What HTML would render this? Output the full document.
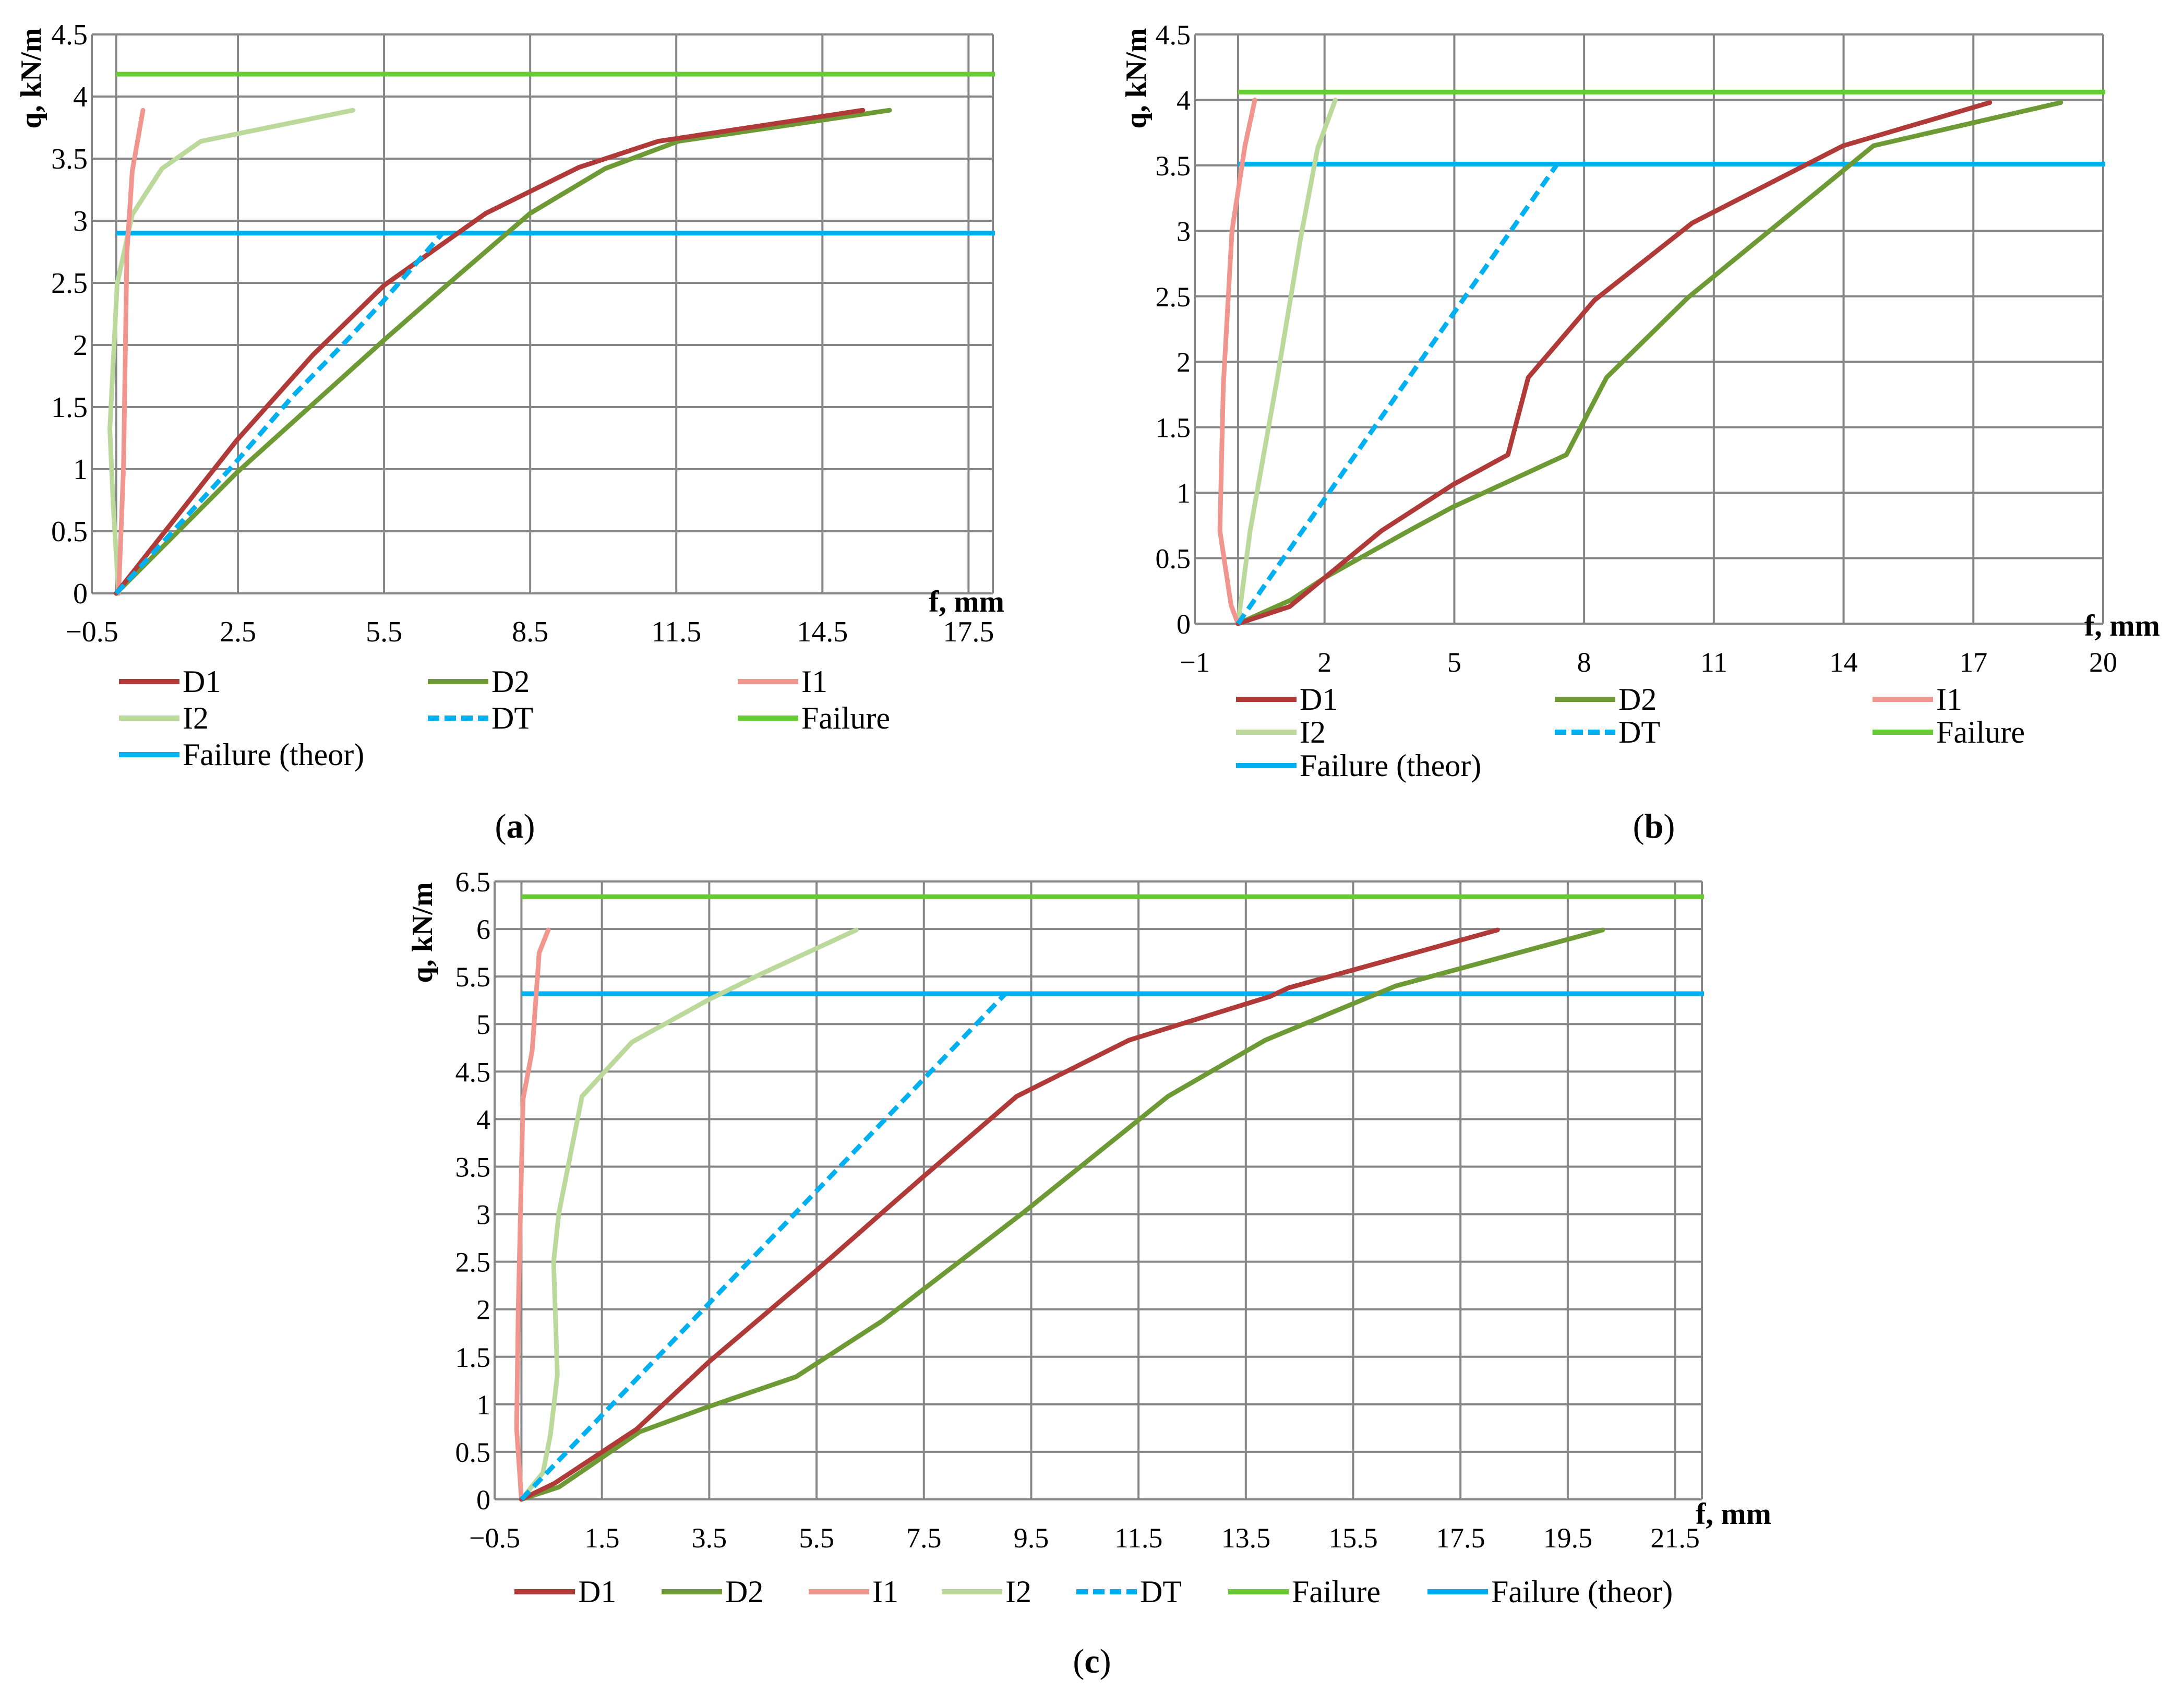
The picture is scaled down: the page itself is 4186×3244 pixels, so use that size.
<!DOCTYPE html>
<html><head><meta charset="utf-8">
<style>
html,body{margin:0;padding:0;background:#fff;}
svg{display:block;font-family:"Liberation Serif",serif;}
svg text{font-family:"Liberation Serif",serif;}
</style></head>
<body>
<svg id="fig" width="4186" height="3244" viewBox="0 0 4186 3244" xmlns="http://www.w3.org/2000/svg" font-family="Liberation Serif, serif"></svg>
<script>
// ---------- DATA: chart (a) ----------
const aD1x=[0,2.47,4.04,5.5,7.59,9.5,11.13,15.33];
const aD1y=[0,1.23,1.92,2.48,3.06,3.43,3.64,3.89];
const aD2x=[0,2.47,5.5,6.9,8.5,10.04,11.54,15.88];
const aD2y=[0,0.97,2.04,2.52,3.06,3.42,3.64,3.89];
const aI1x=[0.05,0.15,0.22,0.33,0.55];
const aI1y=[0,1.01,2.74,3.4,3.89];
const aI2x=[0.05,-0.06,-0.13,0.02,0.33,0.94,1.74,4.86];
const aI2y=[0,0.7,1.32,2.49,3.05,3.42,3.64,3.89];
const aDTx=[0,2.4,3.63,4.72,5.5,6.7];
const aDTy=[0,1.03,1.59,2.03,2.36,2.9];
const aFail=4.18, aTheor=2.9;
const aXTicks=["−0.5","2.5","5.5","8.5","11.5","14.5","17.5"];
const aXTickVals=[-0.5,2.5,5.5,8.5,11.5,14.5,17.5];
const aYTicks=[0,0.5,1,1.5,2,2.5,3,3.5,4,4.5];
// ---------- DATA: chart (b) ----------
const bD1x=[0,1.19,2,3.32,4.96,6.24,6.71,8.24,10.5,13.99,17.38];
const bD1y=[0,0.13,0.35,0.71,1.06,1.29,1.88,2.47,3.06,3.65,3.98];
const bD2x=[0,1.22,2,3.95,4.96,7.59,8.52,10.4,13.99,14.69,19.02];
const bD2y=[0,0.18,0.35,0.71,0.89,1.29,1.88,2.49,3.46,3.65,3.98];
const bI1x=[0,-0.16,-0.42,-0.34,-0.14,0.16,0.39];
const bI1y=[0,0.14,0.71,1.82,3.0,3.65,4.0];
const bI2x=[0,0.28,0.9,1.45,1.84,2.25];
const bI2y=[0,0.71,1.86,2.95,3.63,4.0];
const bDTx=[0,7.38];
const bDTy=[0,3.51];
const bFail=4.06, bTheor=3.51;
const bXTicks=["−1","2","5","8","11","14","17","20"];
const bXTickVals=[-1,2,5,8,11,14,17,20];
const bYTicks=[0,0.5,1,1.5,2,2.5,3,3.5,4,4.5];
// ---------- DATA: chart (c) ----------
const cD1x=[0,0.62,2.15,3.5,5.46,6.73,7.5,9.23,11.32,13.95,14.29,18.19];
const cD1y=[0,0.17,0.74,1.45,2.39,3.02,3.4,4.24,4.83,5.29,5.38,5.99];
const cD2x=[0,0.7,2.2,3.46,5.12,6.73,9.36,12.05,13.86,16.29,20.15];
const cD2y=[0,0.13,0.71,0.97,1.29,1.88,3.02,4.24,4.83,5.4,5.99];
const cI1x=[0,-0.09,-0.06,0.03,0.2,0.33,0.5];
const cI1y=[0,0.74,1.99,4.21,4.72,5.75,5.99];
const cI2x=[0,0.4,0.54,0.67,0.6,0.7,1.13,2.06,3.5,4.44,6.24];
const cI2y=[0,0.28,0.68,1.31,2.5,3.02,4.24,4.81,5.26,5.52,5.99];
const cDTx=[0,9.02];
const cDTy=[0,5.32];
const cFail=6.34, cTheor=5.32;
const cXTicks=["−0.5","1.5","3.5","5.5","7.5","9.5","11.5","13.5","15.5","17.5","19.5","21.5"];
const cXTickVals=[-0.5,1.5,3.5,5.5,7.5,9.5,11.5,13.5,15.5,17.5,19.5,21.5];
const cYTicks=[0,0.5,1,1.5,2,2.5,3,3.5,4,4.5,5,5.5,6,6.5];

const NS="http://www.w3.org/2000/svg";
const FONT="Liberation Serif, serif";
const svg=document.getElementById('fig');
const COL={D1:"#b03a37",D2:"#6e9a35",I1:"#f0968e",I2:"#bcd99c",DT:"#00b0f0",Failure:"#66cc33",Theor:"#00b0f0"};
function mk(tag,attrs,parent){const e=document.createElementNS(NS,tag);for(const k in attrs)e.setAttribute(k,attrs[k]);if(tag==='text')e.setAttribute('font-family',FONT);(parent||svg).appendChild(e);return e;}

function chart(id,cfg){
  const g=mk('g',{});
  
  
  const sx=v=>cfg.px0+(v-cfg.xmin)/(cfg.xmax-cfg.xmin)*(cfg.px1-cfg.px0);
  const sy=v=>cfg.py0-(v-cfg.ymin)/(cfg.ymax-cfg.ymin)*(cfg.py0-cfg.py1);
  cfg.yTicks.forEach(v=>{
    const l=mk('line',{x1:cfg.px0,x2:cfg.px1,y1:sy(v),y2:sy(v),stroke:"#868686","stroke-width":4},g);
    
    
    const t=mk('text',{x:cfg.px0-8,y:sy(v)+19,"text-anchor":"end","font-size":cfg.fs,fill:"#000"},g);
    
    
    t.textContent=String(v);
  });
  const vx=cfg.xTickVals.concat([0,cfg.xmax]);
  vx.forEach(v=>{
    const l=mk('line',{x1:sx(v),x2:sx(v),y1:cfg.py1,y2:cfg.py0,stroke:"#868686","stroke-width":4},g);
    
    
  });
  cfg.xTickVals.forEach((v,i)=>{
    const t=mk('text',{x:sx(v),y:cfg.py0+92,"text-anchor":"middle","font-size":cfg.fs,fill:"#000"},g);
    
    
    t.textContent=cfg.xTicks[i];
  });
  const yt=mk('text',{x:0,y:0,transform:`translate(${cfg.ytx},${cfg.yty}) rotate(-90)`,"text-anchor":"middle","font-size":56,"font-weight":"bold",fill:"#000"},g);
  
  
  yt.textContent="q, kN/m";
  const xt=mk('text',{x:cfg.xtx,y:cfg.xty,"text-anchor":"start","font-size":58,"font-weight":"bold",fill:"#000","xml:space":"preserve"},g);
  
  
  xt.textContent=cfg.xTitle;
  [["Failure",cfg.fail,"failure-line"],["Theor",cfg.theor,"failure-theor-line"]].forEach(([k,v,n])=>{
    const l=mk('line',{x1:sx(0),x2:cfg.px1+4,y1:sy(v),y2:sy(v),stroke:COL[k],"stroke-width":9},g);
    
    
  });
  cfg.series.forEach(s=>{
    const pts=s.x.map((xv,i)=>sx(xv).toFixed(1)+","+sy(s.y[i]).toFixed(1)).join(" ");
    const a={points:pts,fill:"none",stroke:COL[s.k],"stroke-width":9,"stroke-linejoin":"round","stroke-linecap":"round"};
    if(s.k==="DT"){a["stroke-dasharray"]="22 12";a["stroke-linecap"]="butt";}
    const p=mk('polyline',a,g);
    
    
  });
  cfg.legend.forEach(it=>{
    const l=mk('line',{x1:it.x,x2:it.x+116,y1:it.y,y2:it.y,stroke:COL[it.k],"stroke-width":10},g);
    if(it.k==="DT")l.setAttribute('stroke-dasharray','22 10');
    
    
    const t=mk('text',{x:it.x+122,y:it.y+20,"font-size":60,fill:"#000"},g);
    
    
    t.textContent=it.label;
  });
  const lab=mk('text',{x:cfg.labx,y:cfg.laby,"text-anchor":"middle","font-size":66,fill:"#000"},g);
  
  
  lab.innerHTML='(<tspan font-weight="bold">'+id+'</tspan>)';
}

function legend3(x1,x2,x3,y1,y2,y3){
  return [{k:"D1",label:"D1",x:x1,y:y1},{k:"D2",label:"D2",x:x2,y:y1},{k:"I1",label:"I1",x:x3,y:y1},
          {k:"I2",label:"I2",x:x1,y:y2},{k:"DT",label:"DT",x:x2,y:y2},{k:"Failure",label:"Failure",x:x3,y:y2},
          {k:"Theor",label:"Failure (theor)",x:x1,y:y3}];
}

chart('a',{px0:176,px1:1903,py0:1137,py1:66,xmin:-0.5,xmax:18,ymin:0,ymax:4.5,fs:56,
  xTicks:aXTicks,xTickVals:aXTickVals,yTicks:aYTicks,fail:aFail,theor:aTheor,
  ytx:78,yty:150,xtx:1780,xty:1172,xTitle:"f,  mm",labx:987,laby:1605,
  series:[{k:"I2",x:aI2x,y:aI2y},{k:"I1",x:aI1x,y:aI1y},{k:"D2",x:aD2x,y:aD2y},{k:"D1",x:aD1x,y:aD1y},{k:"DT",x:aDTx,y:aDTy}],
  legend:legend3(228,820,1414,1306,1376,1446)});

chart('b',{px0:2290,px1:4031,py0:1195,py1:66,xmin:-1,xmax:20,ymin:0,ymax:4.5,fs:54,
  xTicks:bXTicks,xTickVals:bXTickVals,yTicks:bYTicks,fail:bFail,theor:bTheor,
  ytx:2196,yty:150,xtx:3995,xty:1218,xTitle:"f,  mm",labx:3170,laby:1605,
  series:[{k:"I2",x:bI2x,y:bI2y},{k:"I1",x:bI1x,y:bI1y},{k:"D2",x:bD2x,y:bD2y},{k:"D1",x:bD1x,y:bD1y},{k:"DT",x:bDTx,y:bDTy}],
  legend:legend3(2369,2980,3589,1340,1403,1467)});

chart('c',{px0:948,px1:3262,py0:2873,py1:1689,xmin:-0.5,xmax:22,ymin:0,ymax:6.5,fs:54,
  xTicks:cXTicks,xTickVals:cXTickVals,yTicks:cYTicks,fail:cFail,theor:cTheor,
  ytx:828,yty:1787,xtx:3250,xty:2920,xTitle:"f, mm",labx:2093,laby:3205,
  series:[{k:"I2",x:cI2x,y:cI2y},{k:"I1",x:cI1x,y:cI1y},{k:"D2",x:cD2x,y:cD2y},{k:"D1",x:cD1x,y:cD1y},{k:"DT",x:cDTx,y:cDTy}],
  legend:[{k:"D1",label:"D1",x:986,y:3050},{k:"D2",label:"D2",x:1268,y:3050},{k:"I1",label:"I1",x:1550,y:3050},
          {k:"I2",label:"I2",x:1805,y:3050},{k:"DT",label:"DT",x:2063,y:3050},{k:"Failure",label:"Failure",x:2354,y:3050},
          {k:"Theor",label:"Failure (theor)",x:2736,y:3050}]});
</script>
</body></html>
